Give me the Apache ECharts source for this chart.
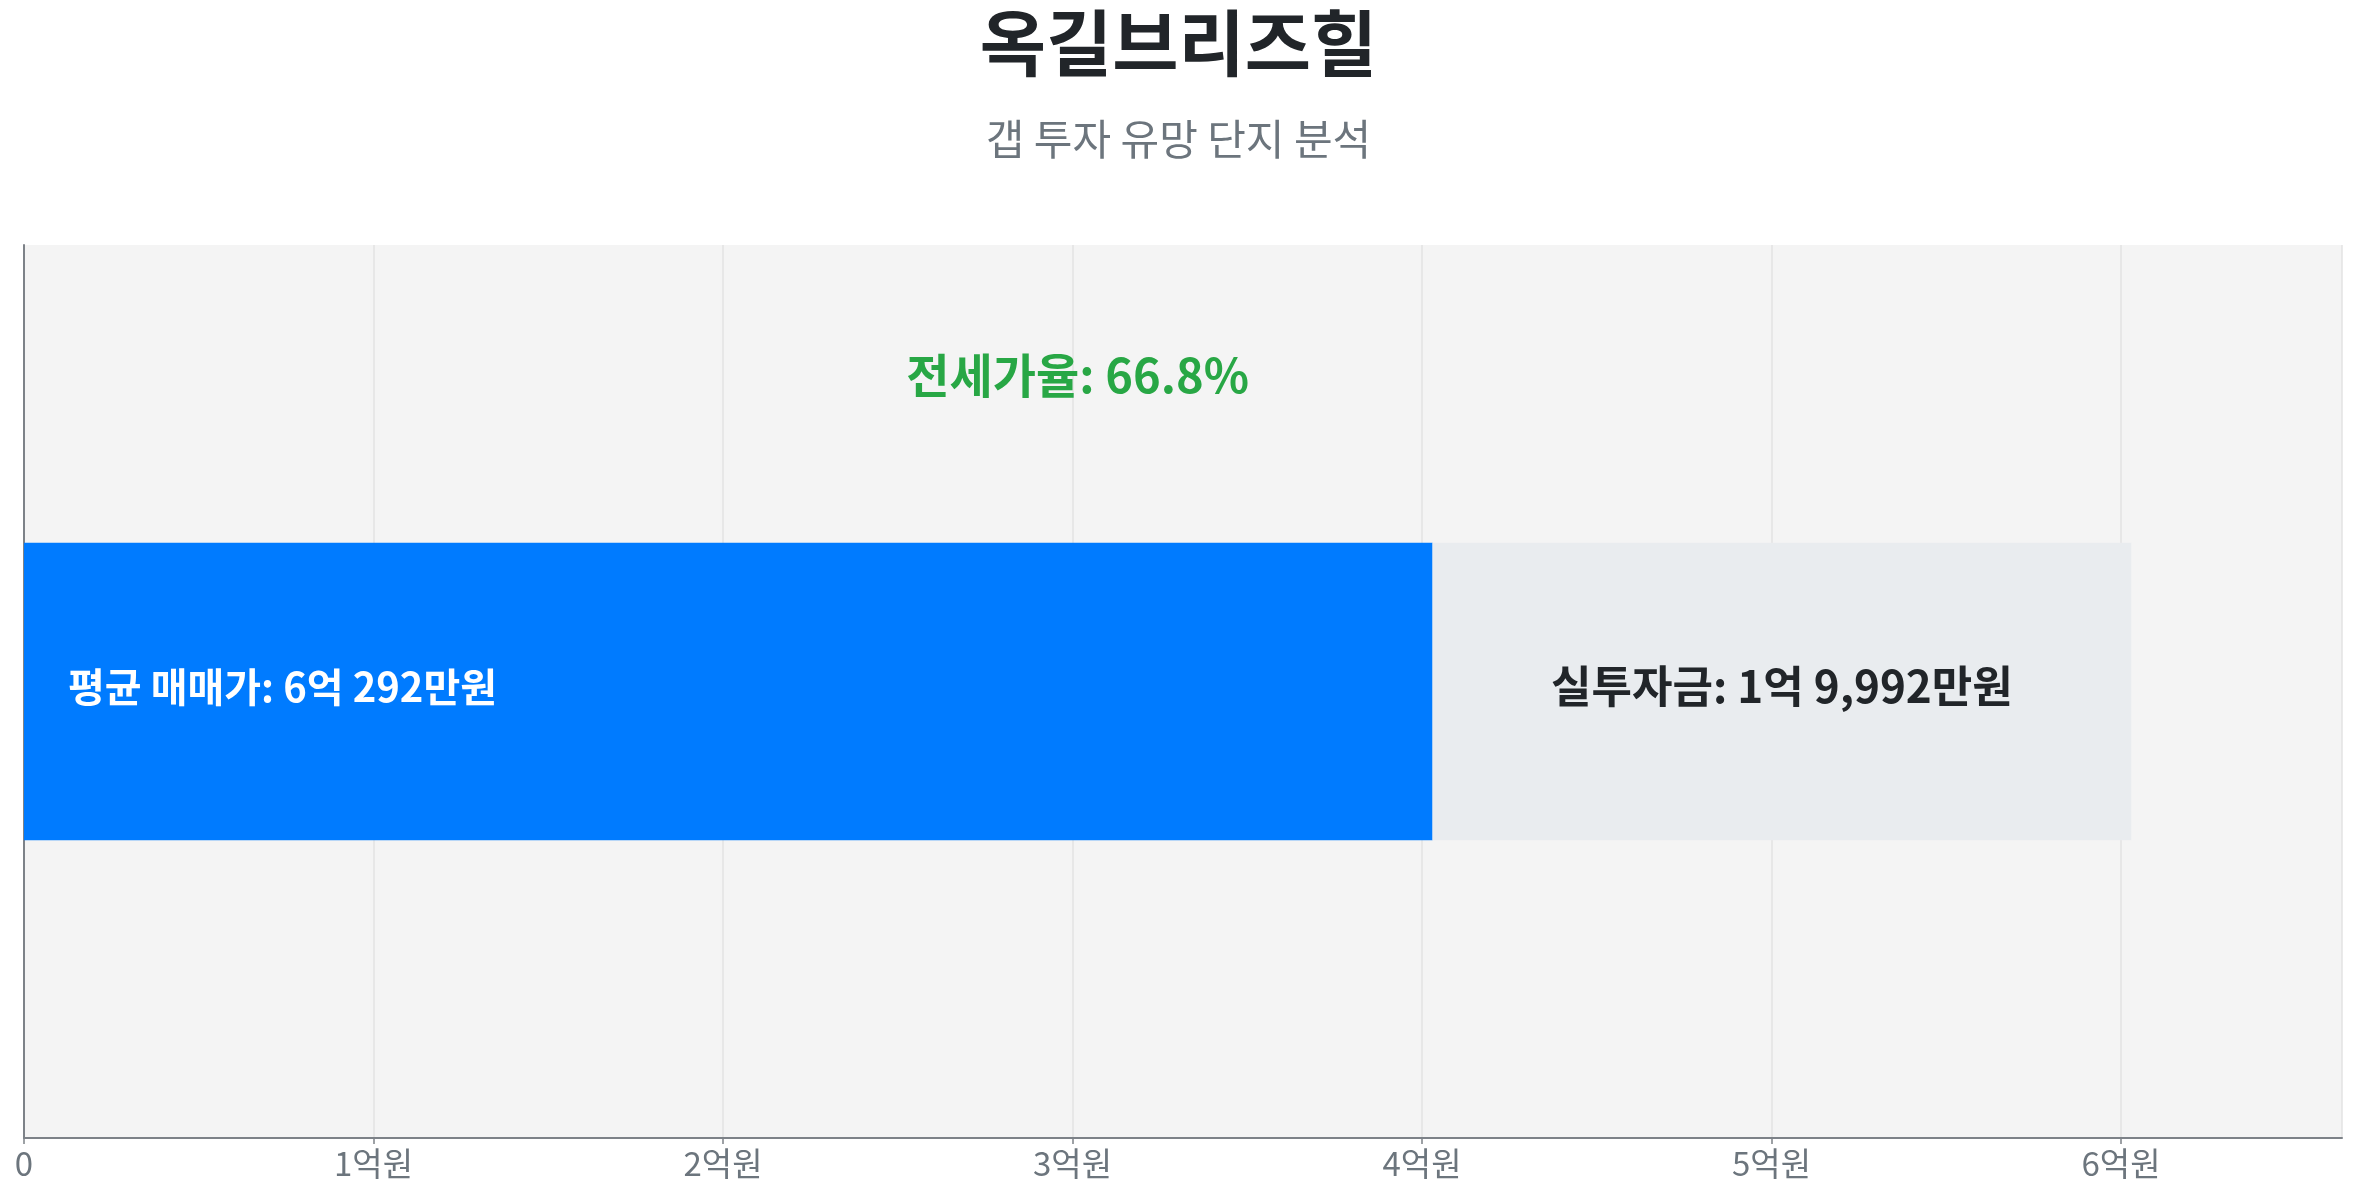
<!DOCTYPE html>
<html>
<head>
<meta charset="utf-8">
<script src="https://cdn.jsdelivr.net/npm/echarts@6/dist/echarts.min.js"></script>
<style>
html,body{margin:0;padding:0;background:#fff;}
#chart{width:2357px;height:1200px;}
</style>
</head>
<body>
<div id="chart"></div>
<script>
// Data (만원 units)
const complexName = '옥길브리즈힐';
const subtitleText = '갭 투자 유망 단지 분석';
const categories = ['옥길브리즈힐'];
const salePrice = [60292];      // 평균 매매가
const jeonsePrice = [40300];    // 전세가 (매매가 - 실투자금)
const investAmount = [19992];   // 실투자금
const xTickStep = 10000;        // 1억원

function fmtMoney(v) {
  const eok = Math.floor(v / 10000);
  const man = v % 10000;
  let s = '';
  if (eok > 0) s += eok + '억';
  if (man > 0) s += (s ? ' ' : '') + man.toLocaleString('en-US') + '만원';
  else s += '원';
  return s;
}
const ratio = (jeonsePrice[0] / salePrice[0] * 100).toFixed(1);
const axisMax = salePrice[0] * 1.1;

const FONT = '"Noto Sans CJK KR", "Noto Sans", sans-serif';
const chart = echarts.init(document.getElementById('chart'));
chart.setOption({
  backgroundColor: '#ffffff',
  title: [
    { text: complexName, left: 'center', top: 2,
      textStyle: { fontFamily: FONT, fontSize: 72, fontWeight: 'bold', color: '#212529' } },
    { text: subtitleText, left: 'center', top: 113,
      textStyle: { fontFamily: FONT, fontSize: 42, fontWeight: 'normal', color: '#6c757d' } }
  ],
  grid: { left: 24, right: 15, top: 245, bottom: 62, show: true, backgroundColor: '#f4f4f4', borderWidth: 0 },
  xAxis: {
    type: 'value', min: 0, max: axisMax, interval: xTickStep,
    axisLine: { show: true, lineStyle: { color: '#7d8288', width: 2 } },
    axisTick: { show: true, length: 6, lineStyle: { color: '#7d8288', width: 1.5 } },
    splitLine: { show: true, lineStyle: { color: '#e3e3e3', width: 1.5 } },
    axisLabel: {
      fontFamily: FONT, fontSize: 33, color: '#6c757d', margin: 9,
      showMaxLabel: false,
      formatter: v => v === 0 ? '0' : (v / 10000) + '억원'
    }
  },
  yAxis: {
    type: 'category', data: categories,
    axisLine: { show: true, lineStyle: { color: '#7d8288', width: 2 } },
    axisTick: { show: false }, axisLabel: { show: false }, splitLine: { show: false }
  },
  series: [
    {
      name: '전세가', type: 'bar', stack: 'total', barWidth: '33.3%',
      data: jeonsePrice,
      itemStyle: { color: '#007bff' },
      label: {
        show: true, position: 'insideLeft', distance: 44, offset: [0, -5],
        fontFamily: FONT, fontSize: 40, fontWeight: 'bold', color: '#ffffff',
        formatter: () => '평균 매매가: ' + fmtMoney(salePrice[0])
      }
    },
    {
      name: '실투자금', type: 'bar', stack: 'total', barWidth: '33.3%',
      data: investAmount,
      itemStyle: { color: '#e9ecef' },
      label: {
        show: true, position: 'inside', offset: [0, -5],
        fontFamily: FONT, fontSize: 44, fontWeight: 'bold', color: '#212529',
        formatter: p => '실투자금: ' + fmtMoney(p.value)
      }
    },
    {
      name: '전세가율', type: 'scatter', symbolSize: 1,
      itemStyle: { color: 'rgba(0,0,0,0)', opacity: 1 },
      data: [[salePrice[0] / 2, 0]],
      label: {
        show: true, position: 'inside', offset: [0, -316],
        fontFamily: FONT, fontSize: 47, fontWeight: 'bold', color: '#28a745', opacity: 1,
        formatter: () => '전세가율: ' + ratio + '%'
      },
      silent: true
    }
  ]
});
</script>
</body>
</html>
